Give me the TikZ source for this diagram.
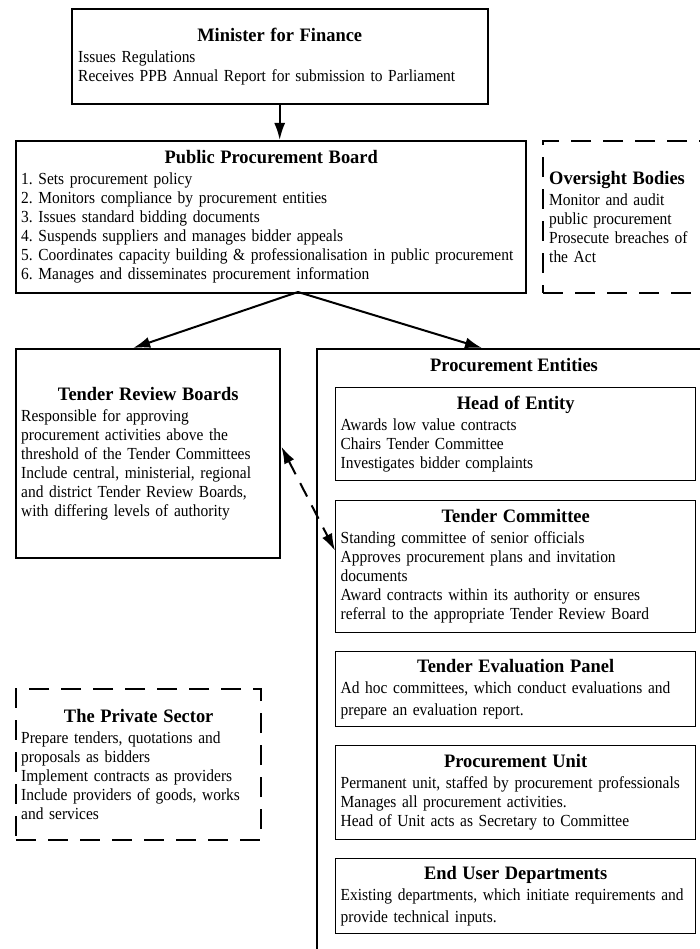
\documentclass[tikz,border=0pt]{standalone}
\usepackage{fontspec}
\setmainfont{Liberation Serif}[FakeStretch=0.915]
\newfontfamily\headfamily{Liberation Serif}[FakeStretch=0.97]
\usepackage{tikz}
\usetikzlibrary{arrows.meta}
\setlength{\parindent}{0pt}
\frenchspacing
\newcommand{\titlefont}{\headfamily\fontsize{19}{21}\selectfont\bfseries}
\newcommand{\boxtitle}[1]{{\centering\titlefont #1\par}\vskip2pt}

\begin{document}
\begin{tikzpicture}[x=1pt, y=-1pt,
    box/.style={shape=rectangle, draw, line width=2.4pt, inner sep=5pt, align=left,
      anchor=north west, font=\fontsize{16.9}{19}\selectfont},
    subbox/.style={box, line width=1.3pt},
    dashbox/.style={box, dash pattern=on 20pt off 12pt},
    arrow/.style={line width=2pt, -{Latex[length=17pt,width=11pt]}},
    dasharrow/.style={line width=2pt, dash pattern=on 15pt off 10pt,
      {Latex[length=17pt,width=11pt]}-{Latex[length=17pt,width=11pt]}}]
    \useasboundingbox (0,0) rectangle (700,949);
    \clip (0,0) rectangle (700,949);
    % top level
    \node[box, minimum width=416, minimum height=95, text width=403] (minister) at (70.5,8)
      {\boxtitle{Minister for Finance}
       Issues Regulations\\
       Receives PPB Annual Report for submission to Parliament};
    \node[box, minimum width=509, minimum height=152, text width=500] (ppb) at (15,140)
      {\boxtitle{Public Procurement Board}
       1. Sets procurement policy\\
       2. Monitors compliance by procurement entities\\
       3. Issues standard bidding documents\\
       4. Suspends suppliers and manages bidder appeals\\
       5. Coordinates capacity building \& professionalisation in public procurement\\
       6. Manages and disseminates procurement information};
    \node[dashbox, minimum width=220, minimum height=152, text width=208] (oversight) at (542,140)
      {{\titlefont Oversight Bodies}\\[2pt]
       Monitor and audit\\
       public procurement\\
       Prosecute breaches of\\
       the Act};
    % second level
    \node[box, minimum width=264, minimum height=209, text width=254] (reviewboards) at (15,348)
      {\boxtitle{Tender Review Boards}
       Responsible for approving\\
       procurement activities above the\\
       threshold of the Tender Committees\\
       Include central, ministerial, regional\\
       and district Tender Review Boards,\\
       with differing levels of authority};
    \node[box, minimum width=430, minimum height=700] (entities) at (316,348) {};
    \node[font=\titlefont] (entitiestitle) at (514,365) {Procurement Entities};
    \node[dashbox, minimum width=245, minimum height=151, text width=235] (private) at (15,688)
      {\boxtitle{The Private Sector}
       Prepare tenders, quotations and\\
       proposals as bidders\\
       Implement contracts as providers\\
       Include providers of goods, works\\
       and services};
    % inside the procurement entities
    \node[subbox, minimum width=358, minimum height=93, text width=350] (head) at (335,387)
      {\boxtitle{Head of Entity}
       Awards low value contracts\\
       Chairs Tender Committee\\
       Investigates bidder complaints};
    \node[subbox, minimum width=358, minimum height=132, text width=350] (committee) at (335,500)
      {\boxtitle{Tender Committee}
       Standing committee of senior officials\\
       Approves procurement plans and invitation\\
       documents\\
       Award contracts within its authority or ensures\\
       referral to the appropriate Tender Review Board};
    \node[subbox, minimum width=358, minimum height=75, text width=350] (evaluation) at (335,651)
      {\boxtitle{Tender Evaluation Panel}
       Ad hoc committees, which conduct evaluations and\\[3pt]
       prepare an evaluation report.};
    \node[subbox, minimum width=358, minimum height=94, text width=350] (unit) at (335,745)
      {\boxtitle{Procurement Unit}
       Permanent unit, staffed by procurement professionals\\
       Manages all procurement activities.\\
       Head of Unit acts as Secretary to Committee};
    \node[subbox, minimum width=358, minimum height=75, text width=350] (users) at (335,858)
      {\boxtitle{End User Departments}
       Existing departments, which initiate requirements and\\[3pt]
       provide technical inputs.};
    % connectors
    \coordinate (split) at (298,292);
    \draw[arrow] (minister.south) -- (minister.south |- ppb.north);
    \draw[arrow] (split) -- ([xshift=-15pt]reviewboards.north);
    \draw[arrow] (split) -- ([xshift=166pt]entities.north west);
    \draw[dasharrow] ([yshift=7pt]reviewboards.east) -- ([yshift=16pt]committee.west);
\end{tikzpicture}
\end{document}
